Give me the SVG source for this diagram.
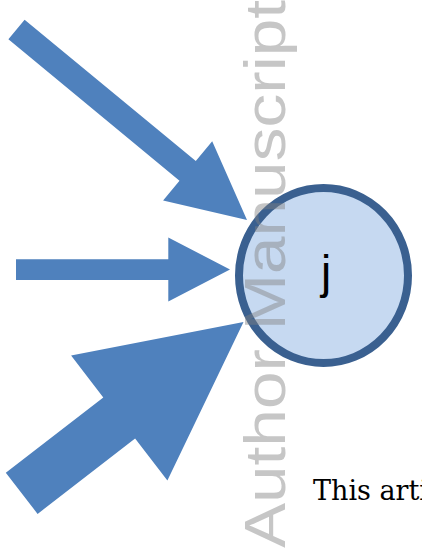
<svg xmlns="http://www.w3.org/2000/svg" width="422" height="552" viewBox="0 0 422 552">
  <style>
    .arrow { fill: #4F81BD; stroke: none; }
    .node-circle { fill: #C6D9F1; stroke: #3A6090; stroke-width: 8; }
    .node-label { font-family: "Liberation Sans", Arial, sans-serif; font-size: 46px; fill: #000000; text-anchor: middle; }
    .watermark { font-family: "Liberation Sans", Arial, sans-serif; font-size: 58px; fill: #808080; fill-opacity: 0.45; }
    .body-text { font-family: "DejaVu Serif", "Liberation Serif", serif; font-size: 27px; fill: #000000; }
  </style>
  <rect x="0" y="0" width="422" height="552" fill="#FFFFFF"/>
  <g id="connectors">
    <polygon id="arrow-top" class="arrow" points="8.4,39.3 24.6,19.7 195.8,161.1 212.2,141.3 247,220 163.1,200.6 179.5,180.8"/>
    <polygon id="arrow-middle" class="arrow" points="16,259.3 168.3,259.3 168.3,237.5 230,269.5 168.3,301.5 168.3,280 16,280"/>
    <polygon id="arrow-bottom" class="arrow" points="5.8,472.7 103.3,397.4 71.1,355.6 243.5,322 167.4,480.4 135.1,438.6 37.6,513.9"/>
  </g>
  <g id="node-j">
    <ellipse class="node-circle" cx="323.5" cy="275.5" rx="84.5" ry="87.5"/>
    <text class="node-label" x="326" y="288">j</text>
  </g>
  <text class="body-text" x="313" y="500">This arti</text>
  <text class="watermark" transform="translate(285,548) rotate(-90)" x="0" y="0" textLength="548" lengthAdjust="spacingAndGlyphs">Author Manuscript</text>
</svg>
